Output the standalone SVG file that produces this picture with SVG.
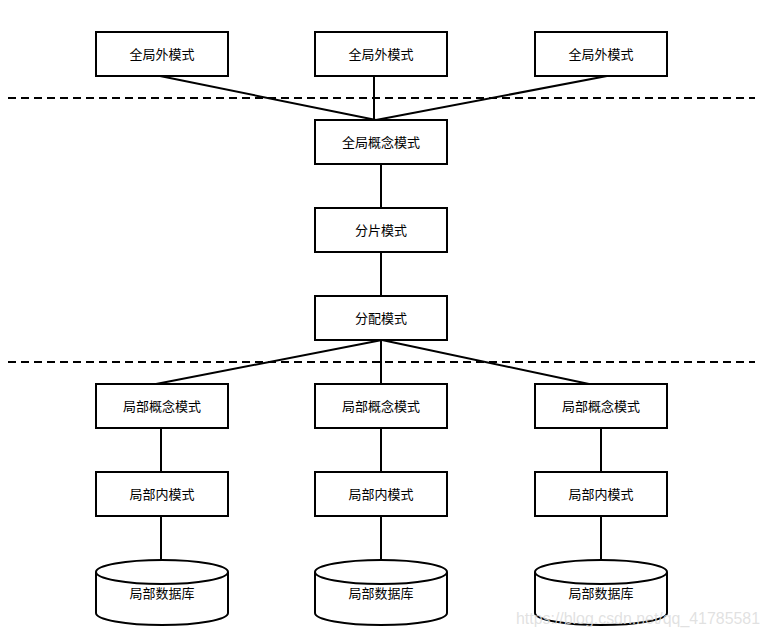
<svg xmlns="http://www.w3.org/2000/svg" width="769" height="637" viewBox="0 0 769 637">
<style>
.box{fill:#fff;stroke:#000;stroke-width:2}
.t{font-family:"Noto Sans CJK SC","Liberation Sans",sans-serif;font-size:13px;fill:#000;text-anchor:middle;dominant-baseline:central}
.ln{stroke:#000;stroke-width:2;fill:none}
.dash{stroke:#000;stroke-width:2;stroke-dasharray:8,5;fill:none}
.wm{font-family:"Liberation Sans",Arial,sans-serif;font-size:16px;fill:#dcdcdc;fill-opacity:0.85}
</style>
<rect width="769" height="637" fill="#fff"/>
<g id="connectors">
<line class="dash" x1="8" y1="98" x2="755" y2="98"/>
<line class="dash" x1="8" y1="362" x2="755" y2="362"/>
<line class="ln" x1="160" y1="76" x2="376" y2="120"/>
<line class="ln" x1="374" y1="76" x2="374" y2="120"/>
<line class="ln" x1="607" y1="76" x2="376" y2="120"/>
<line class="ln" x1="381" y1="164" x2="381" y2="208"/>
<line class="ln" x1="381" y1="252" x2="381" y2="296"/>
<line class="ln" x1="382" y1="340" x2="156" y2="384"/>
<line class="ln" x1="381" y1="340" x2="381" y2="384"/>
<line class="ln" x1="382" y1="340" x2="589" y2="384"/>
<line class="ln" x1="161" y1="428" x2="161" y2="472"/>
<line class="ln" x1="381" y1="428" x2="381" y2="472"/>
<line class="ln" x1="601" y1="428" x2="601" y2="472"/>
<line class="ln" x1="161" y1="516" x2="161" y2="560"/>
<line class="ln" x1="381" y1="516" x2="381" y2="560"/>
<line class="ln" x1="601" y1="516" x2="601" y2="560"/>
</g>
<g id="ext1"><rect class="box" x="96" y="32" width="132" height="44"/><text class="t" x="162" y="53">全局外模式</text></g>
<g id="ext2"><rect class="box" x="315" y="32" width="132" height="44"/><text class="t" x="381" y="53">全局外模式</text></g>
<g id="ext3"><rect class="box" x="535" y="32" width="132" height="44"/><text class="t" x="601" y="53">全局外模式</text></g>
<g id="gconcept"><rect class="box" x="315" y="120" width="132" height="44"/><text class="t" x="381" y="141">全局概念模式</text></g>
<g id="frag"><rect class="box" x="315" y="208" width="132" height="44"/><text class="t" x="381" y="229">分片模式</text></g>
<g id="alloc"><rect class="box" x="315" y="296" width="132" height="44"/><text class="t" x="381" y="317">分配模式</text></g>
<g id="lc1"><rect class="box" x="96" y="384" width="132" height="44"/><text class="t" x="162" y="405">局部概念模式</text></g>
<g id="lc2"><rect class="box" x="315" y="384" width="132" height="44"/><text class="t" x="381" y="405">局部概念模式</text></g>
<g id="lc3"><rect class="box" x="535" y="384" width="132" height="44"/><text class="t" x="601" y="405">局部概念模式</text></g>
<g id="li1"><rect class="box" x="96" y="472" width="132" height="44"/><text class="t" x="162" y="493">局部内模式</text></g>
<g id="li2"><rect class="box" x="315" y="472" width="132" height="44"/><text class="t" x="381" y="493">局部内模式</text></g>
<g id="li3"><rect class="box" x="535" y="472" width="132" height="44"/><text class="t" x="601" y="493">局部内模式</text></g>
<g id="db1"><path class="box" d="M96,572 L96,613 A66,12 0 0 0 228,613 L228,572 A66,12 0 0 0 96,572 A66,12 0 0 0 228,572"/><text class="t" x="162" y="592">局部数据库</text></g>
<g id="db2"><path class="box" d="M315,572 L315,613 A66,12 0 0 0 447,613 L447,572 A66,12 0 0 0 315,572 A66,12 0 0 0 447,572"/><text class="t" x="381" y="592">局部数据库</text></g>
<g id="db3"><path class="box" d="M535,572 L535,613 A66,12 0 0 0 667,613 L667,572 A66,12 0 0 0 535,572 A66,12 0 0 0 667,572"/><text class="t" x="601" y="592">局部数据库</text></g>
<text class="wm" x="516" y="624" textLength="244" lengthAdjust="spacingAndGlyphs">https://blog.csdn.net/qq_41785581</text>
</svg>
